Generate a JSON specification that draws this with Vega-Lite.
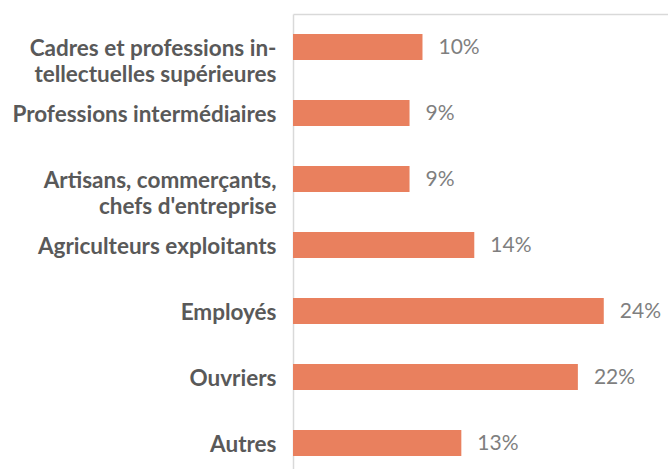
{
  "$schema": "https://vega.github.io/schema/vega-lite/v6.json",
  "autosize": "none",
  "padding": {"left": 293, "top": 14, "right": 0, "bottom": 0},
  "width": 375,
  "height": 462,
  "background": "white",
  "view": {"stroke": null},
  "data": {
    "values": [
      {"cat": "Cadres et professions in-|tellectuelles supérieures", "value": 0.10},
      {"cat": "Professions intermédiaires", "value": 0.09},
      {"cat": "Artisans, commerçants,|chefs d'entreprise", "value": 0.09},
      {"cat": "Agriculteurs exploitants", "value": 0.14},
      {"cat": "Employés", "value": 0.24},
      {"cat": "Ouvriers", "value": 0.22},
      {"cat": "Autres", "value": 0.13}
    ]
  },
  "encoding": {
    "y": {
      "field": "cat",
      "type": "nominal",
      "sort": null,
      "scale": {"paddingInner": 0.606, "paddingOuter": 0.303},
      "axis": {
        "title": null,
        "ticks": false,
        "domain": true,
        "domainColor": "#d9d9d9",
        "domainWidth": 1.5,
        "labelExpr": "split(datum.label, '|')",
        "labelFont": "Lato",
        "labelFontWeight": "bold",
        "labelFontSize": 22.5,
        "labelColor": "#595959",
        "labelPadding": 17,
        "labelLineHeight": 26,
        "labelBaseline": "top",
        "labelOffset": -9,
        "labelLimit": 400
      }
    },
    "x": {
      "field": "value",
      "type": "quantitative",
      "scale": {"domain": [0, 0.2896]},
      "axis": {
        "orient": "top",
        "title": null,
        "labels": false,
        "ticks": false,
        "grid": false,
        "domain": true,
        "domainColor": "#d9d9d9",
        "domainWidth": 1.5
      }
    }
  },
  "layer": [
    {"mark": {"type": "bar", "color": "#E9805E"}},
    {
      "mark": {"type": "text", "align": "left", "baseline": "middle", "dx": 16, "dy": 1, "font": "Lato", "fontSize": 21, "color": "#7f7f7f"},
      "encoding": {"text": {"field": "value", "type": "quantitative", "format": ".0%"}}
    }
  ]
}
